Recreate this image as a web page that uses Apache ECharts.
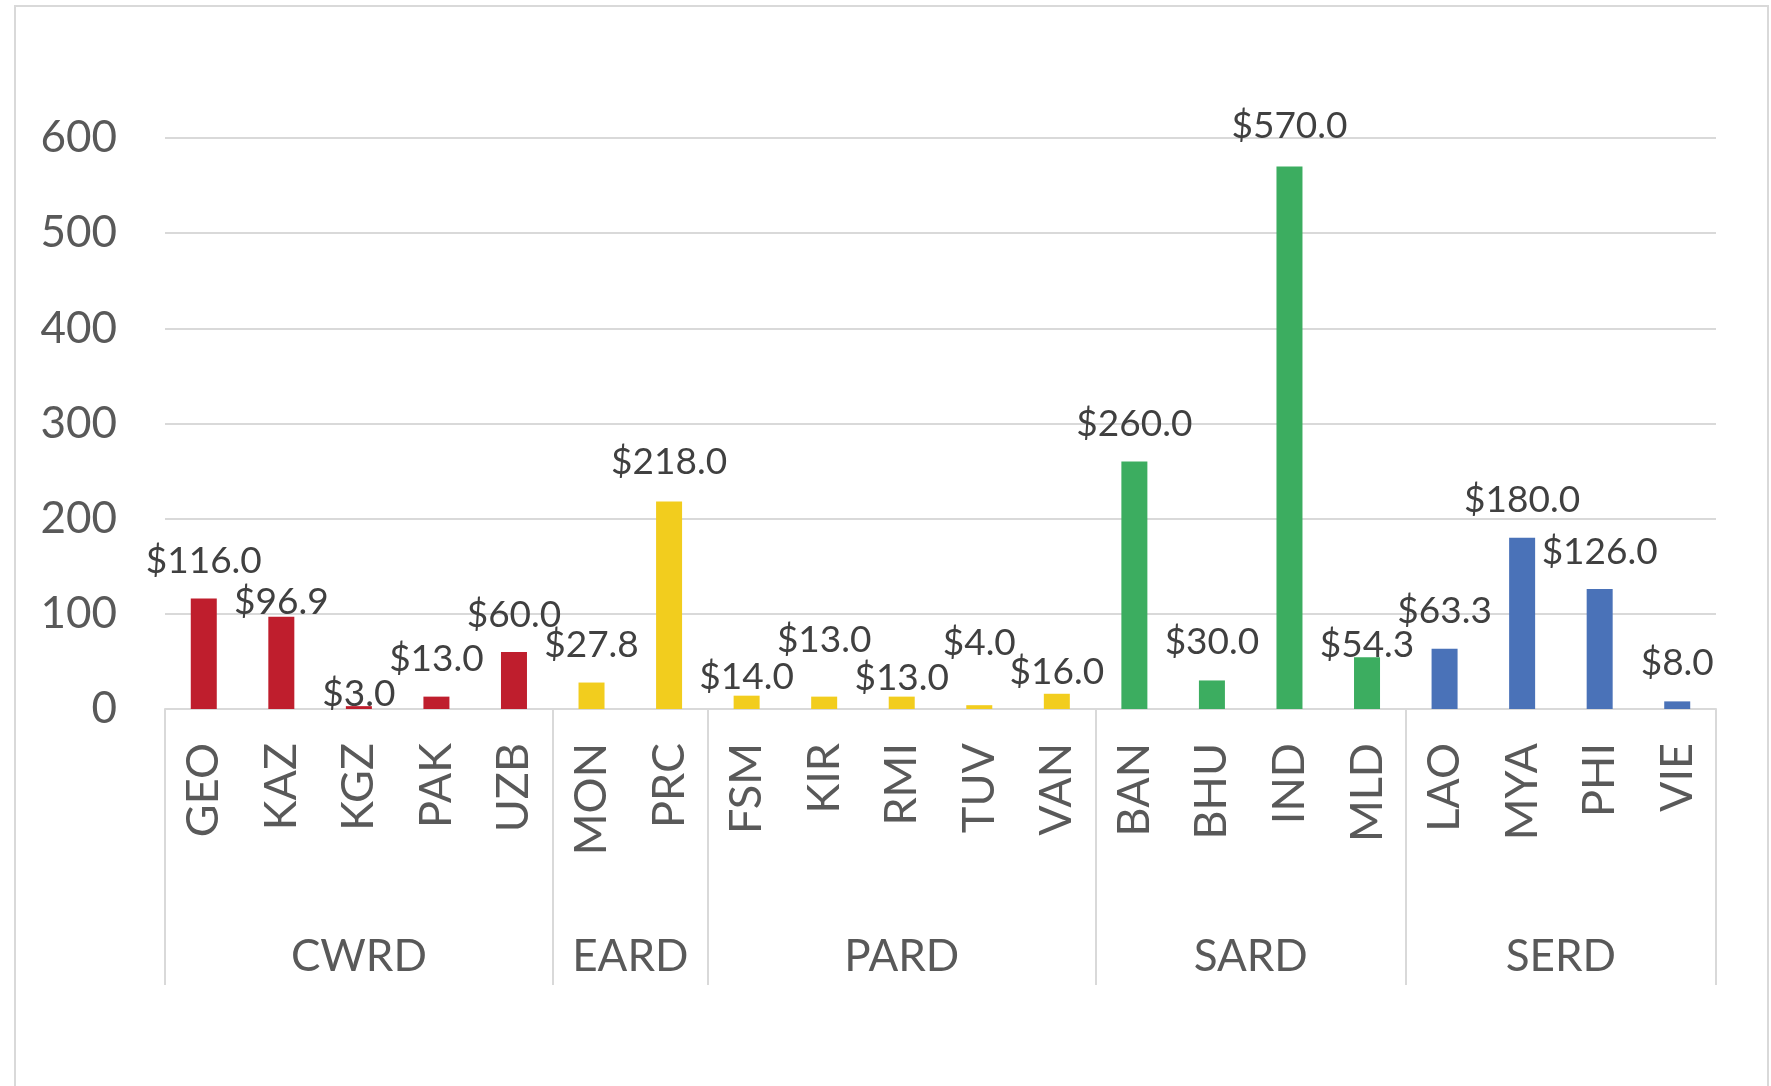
<!DOCTYPE html>
<html>
<head>
<meta charset="utf-8">
<script src="https://cdn.jsdelivr.net/npm/echarts@6/dist/echarts.min.js"></script>
<style>
  html, body { margin: 0; padding: 0; background: #fff; }
  #chart { width: 1771px; height: 1086px; }
</style>
</head>
<body>
<div id="chart"></div>
<script>
// countries, in the order they sit on the axis
var categories = ['GEO', 'KAZ', 'KGZ', 'PAK', 'UZB', 'MON', 'PRC', 'FSM', 'KIR', 'RMI',
                  'TUV', 'VAN', 'BAN', 'BHU', 'IND', 'MLD', 'LAO', 'MYA', 'PHI', 'VIE'];
var values = [116.0, 96.9, 3.0, 13.0, 60.0, 27.8, 218.0, 14.0, 13.0, 13.0,
              4.0, 16.0, 260.0, 30.0, 570.0, 54.3, 63.3, 180.0, 126.0, 8.0];
// regional departments and how many countries each one covers
var groupNames = ['CWRD', 'EARD', 'PARD', 'SARD', 'SERD'];
var groupSizes = [5, 2, 5, 4, 4];
var yTicks = [0, 100, 200, 300, 400, 500, 600];

// styling
var groupColors = ['#BF1E2D', '#F2CD1E', '#F2CD1E', '#3CAD60', '#4A72B8'];
// how far each value label sits above its bar (px, label centre), some were moved by hand
var labelLift = [42, 19, 16, 42, 41, 41, 43, 23, 61, 23, 66, 26, 42, 42, 44, 16, 42, 42, 41, 42];

var FONT = 'Lato, "Open Sans", sans-serif';
var GRID_LINE = '#d9d9d9';

// colour of each bar comes from its group
var barColors = [];
groupSizes.forEach(function (n, g) {
    for (var i = 0; i < n; i++) barColors.push(groupColors[g]);
});

var barData = values.map(function (v, i) {
    return {
        value: v,
        itemStyle: { color: barColors[i] },
        label: { distance: labelLift[i] - 19 }
    };
});

// group axis: half-category slots, so group centres and borders land on slots
var slots = [];
for (var s = 0; s <= categories.length * 2; s++) slots.push('');
var borders = { 0: true };
var start = 0;
groupSizes.forEach(function (n, g) {
    slots[start * 2 + n] = groupNames[g];
    start += n;
    borders[start * 2] = true;
});

var myChart = echarts.init(document.getElementById('chart'));
myChart.setOption({
    animation: false,
    graphic: [{
        type: 'rect',
        shape: { x: 15, y: 6, width: 1753, height: 1200 },
        style: { fill: 'none', stroke: GRID_LINE, lineWidth: 2 },
        silent: true
    }],
    grid: { left: 165, right: 55, top: 138, bottom: 377 },
    xAxis: [
        {
            type: 'category',
            data: categories,
            axisLine: { lineStyle: { color: GRID_LINE, width: 2 } },
            axisTick: { show: false },
            axisLabel: {
                rotate: 90,
                interval: 0,
                margin: 34,
                color: '#595959',
                fontFamily: FONT,
                fontSize: 45
            }
        },
        {
            type: 'category',
            data: slots,
            boundaryGap: false,
            position: 'bottom',
            axisLine: { show: false },
            axisTick: {
                show: true,
                interval: function (i) { return !!borders[i]; },
                length: 276,
                lineStyle: { color: GRID_LINE, width: 2 }
            },
            axisLabel: {
                interval: 0,
                margin: 226,
                color: '#595959',
                fontFamily: FONT,
                fontSize: 44
            }
        }
    ],
    yAxis: {
        type: 'value',
        min: yTicks[0],
        max: yTicks[yTicks.length - 1],
        interval: yTicks[1] - yTicks[0],
        axisLine: { show: false },
        axisTick: { show: false },
        splitLine: { lineStyle: { color: GRID_LINE, width: 2 } },
        axisLabel: {
            margin: 48,
            color: '#595959',
            fontFamily: FONT,
            fontSize: 44
        }
    },
    series: [{
        type: 'bar',
        barWidth: 26,
        data: barData,
        label: {
            show: true,
            position: 'top',
            color: '#404040',
            fontFamily: FONT,
            fontSize: 37,
            lineHeight: 30,
            formatter: function (p) { return '$' + p.value.toFixed(1); }
        }
    }]
});
</script>
</body>
</html>
